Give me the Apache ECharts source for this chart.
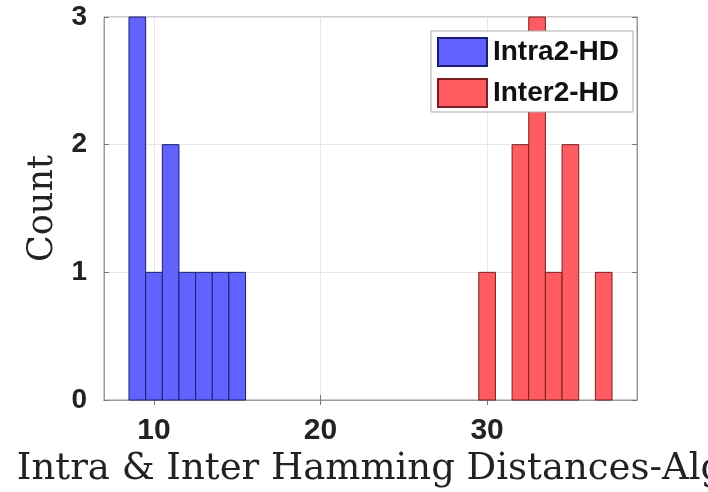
<!DOCTYPE html>
<html>
<head>
<meta charset="utf-8">
<script src="https://cdn.jsdelivr.net/npm/echarts@6/dist/echarts.min.js"></script>
<style>
  html, body { margin: 0; padding: 0; background: #fff; }
  #chart { width: 708px; height: 492px; }
</style>
</head>
<body>
<div id="chart"></div>
<script>
// histogram bins (bin centres, width 1) and counts
var binWidth = 1;
var intraCenters = [9, 10, 11, 12, 13, 14, 15];
var intraCounts = [3, 1, 2, 1, 1, 1, 1];
var interCenters = [30, 31, 32, 33, 34, 35, 36, 37];
var interCounts = [1, 0, 2, 3, 1, 2, 0, 1];
var xTicks = [10, 20, 30];
var yTicks = [0, 1, 2, 3];

function pairs(xs, ys) {
    var out = [];
    for (var i = 0; i < xs.length; i++) {
        if (ys[i] > 0) out.push([xs[i], ys[i]]);
    }
    return out;
}

// draw one histogram bar through the axes' scales
function renderBar(params, api) {
    var x = api.value(0), y = api.value(1);
    var p0 = api.coord([x - binWidth / 2, y]);
    var p1 = api.coord([x + binWidth / 2, 0]);
    return {
        type: 'rect',
        shape: { x: p0[0], y: p0[1], width: p1[0] - p0[0], height: p1[1] - p0[1] },
        style: api.style()
    };
}

var chart = echarts.init(document.getElementById('chart'));
var tickFont = { fontFamily: 'Liberation Sans', fontWeight: 'bold', color: '#222' };
var option = {
    animation: false,
    backgroundColor: '#fff',
    grid: {
        left: 104, right: 71, top: 17, bottom: 92,
        outerBoundsMode: 'none', containLabel: false,
        show: true, borderColor: '#999', borderWidth: 1
    },
    legend: {
        top: 31, right: 75,
        orient: 'vertical',
        backgroundColor: '#fff',
        borderColor: '#aaa', borderWidth: 1,
        padding: [6, 14, 4, 6],
        itemWidth: 49, itemHeight: 28, itemGap: 11,
        icon: 'rect',
        textStyle: { fontFamily: 'Liberation Sans', fontWeight: 'bold', fontSize: 28, color: '#111', padding: [0, 0, 0, 1] },
        data: ['Intra2-HD', 'Inter2-HD']
    },
    xAxis: [{
        type: 'value', min: 7, max: 39,
        name: 'Intra & Inter Hamming Distances-Alg',
        nameLocation: 'middle', nameGap: 51,
        nameTextStyle: { fontFamily: 'DejaVu Serif', fontSize: 37, color: '#222' },
        axisLine: { show: true, lineStyle: { color: '#999' } },
        axisTick: { inside: true, length: 5, customValues: xTicks, lineStyle: { color: '#777' } },
        axisLabel: Object.assign({ fontSize: 30, margin: 16, customValues: xTicks }, tickFont),
        splitLine: { show: true, lineStyle: { color: '#e6e6e6' } }
    }, {
        type: 'value', min: 7, max: 39, position: 'top',
        axisLine: { show: true, lineStyle: { color: '#999' } },
        axisTick: { inside: true, length: 5, customValues: xTicks, lineStyle: { color: '#777' } },
        axisLabel: { show: false },
        splitLine: { show: false }
    }],
    yAxis: [{
        type: 'value', min: 0, max: 3, interval: 1,
        name: 'Count',
        nameLocation: 'middle', nameGap: 42,
        nameTextStyle: { fontFamily: 'DejaVu Serif', fontSize: 35, color: '#222' },
        axisLine: { show: true, lineStyle: { color: '#999' } },
        axisTick: { show: true, inside: true, length: 5, lineStyle: { color: '#777' } },
        axisLabel: Object.assign({ fontSize: 28, margin: 17 }, tickFont),
        splitLine: { show: true, lineStyle: { color: '#e6e6e6' } }
    }, {
        type: 'value', min: 0, max: 3, interval: 1, position: 'right',
        axisLine: { show: true, lineStyle: { color: '#999' } },
        axisTick: { show: true, inside: true, length: 5, lineStyle: { color: '#777' } },
        axisLabel: { show: false },
        splitLine: { show: false }
    }],
    series: [{
        name: 'Intra2-HD',
        type: 'custom',
        renderItem: renderBar,
        encode: { x: 0, y: 1 },
        itemStyle: { color: '#6262ff', borderColor: '#1e1e70', borderWidth: 1 },
        data: pairs(intraCenters, intraCounts)
    }, {
        name: 'Inter2-HD',
        type: 'custom',
        renderItem: renderBar,
        encode: { x: 0, y: 1 },
        itemStyle: { color: '#ff5c61', borderColor: '#7a1e22', borderWidth: 1 },
        data: pairs(interCenters, interCounts)
    }]
};
chart.setOption(option);
</script>
</body>
</html>
